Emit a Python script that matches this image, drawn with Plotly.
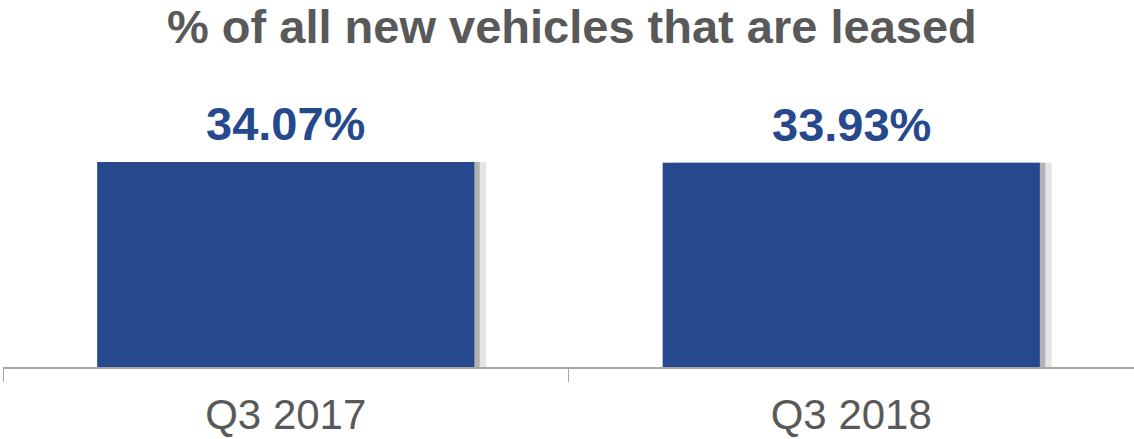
import plotly.graph_objects as go

# Share of new vehicles that are leased
categories = ["Q3 2017", "Q3 2018"]
lease_share = [34.07, 33.93]

BAR_COLOR = "#26498E"
GRAY_TEXT = "#595959"
FONT = "Liberation Sans, Arial, sans-serif"
BAR_WIDTH = 0.667

fig = go.Figure()

# soft drop shadow to the right of each bar (outer, lighter layer)
fig.add_trace(go.Bar(
    x=categories, y=lease_share, width=BAR_WIDTH, offset=-BAR_WIDTH / 2 + 0.021,
    marker=dict(color="#e4e4e4", line=dict(width=0)), hoverinfo="skip", showlegend=False,
))
# inner, darker shadow layer
fig.add_trace(go.Bar(
    x=categories, y=lease_share, width=BAR_WIDTH, offset=-BAR_WIDTH / 2 + 0.0095,
    marker=dict(color="#b2b2b2", line=dict(width=0)), hoverinfo="skip", showlegend=False,
))
# main bars
fig.add_trace(go.Bar(
    x=categories, y=lease_share, width=BAR_WIDTH, offset=-BAR_WIDTH / 2,
    marker=dict(color=BAR_COLOR, line=dict(width=0)), showlegend=False,
))

fig.update_layout(barmode="overlay")

# value labels above the bars
for cat, val in zip(categories, lease_share):
    fig.add_annotation(
        x=cat, y=val, text=f"<b>{val:.2f}%</b>", showarrow=False,
        yanchor="bottom", yshift=10,
        font=dict(family=FONT, size=47, color=BAR_COLOR),
    )

fig.update_layout(
    width=1134, height=439,
    margin=dict(l=3, r=0, t=80, b=72),
    paper_bgcolor="white", plot_bgcolor="white",
    title=dict(
        text="<b>% of all new vehicles that are leased</b>",
        x=0.503, xanchor="center", xref="paper",
        y=1 - 27 / 439, yanchor="middle", yref="container",
        font=dict(family=FONT, size=47, color=GRAY_TEXT),
    ),
    xaxis=dict(
        showline=True, linecolor="#a6a6a6", linewidth=1.5,
        ticks="outside", tickson="boundaries", ticklen=13, tickcolor="#a6a6a6", tickwidth=1,
        tickfont=dict(family=FONT, size=42, color=GRAY_TEXT),
        ticklabelstandoff=10, showgrid=False, zeroline=False,
    ),
    yaxis=dict(range=[0, 47.7], visible=False, showgrid=False, zeroline=False),
)

fig.write_html("out.html")
